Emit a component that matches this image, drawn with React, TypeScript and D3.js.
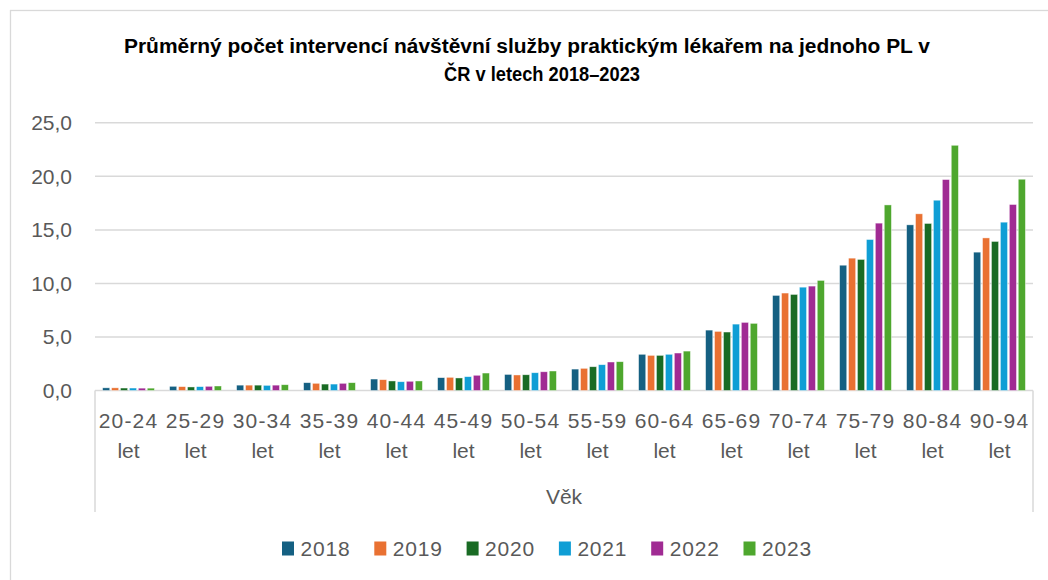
import React from "react";
import * as d3 from "d3";

const categories = ["20-24 let","25-29 let","30-34 let","35-39 let","40-44 let","45-49 let","50-54 let","55-59 let","60-64 let","65-69 let","70-74 let","75-79 let","80-84 let","90-94 let"];
const years = ["2018","2019","2020","2021","2022","2023"];
const v2018 = [0.25,0.39,0.5,0.73,1.07,1.2,1.5,2.0,3.38,5.64,8.88,11.7,15.47,12.92];
const v2019 = [0.25,0.36,0.5,0.67,1.01,1.23,1.45,2.07,3.28,5.52,9.1,12.36,16.5,14.25];
const v2020 = [0.23,0.33,0.5,0.6,0.89,1.17,1.47,2.22,3.28,5.46,8.97,12.24,15.6,13.92];
const v2021 = [0.23,0.36,0.48,0.6,0.82,1.29,1.66,2.41,3.38,6.2,9.65,14.1,17.77,15.72];
const v2022 = [0.22,0.39,0.5,0.67,0.86,1.42,1.75,2.66,3.5,6.36,9.75,15.63,19.7,17.37];
const v2023 = [0.22,0.42,0.54,0.73,0.89,1.63,1.82,2.69,3.68,6.27,10.28,17.33,22.9,19.73];
const seriesValues = [v2018,v2019,v2020,v2021,v2022,v2023];
const colors = ["#156082","#E97132","#196B24","#0F9ED5","#A02B93","#4EA72E"];
const yTicks = [0,5,10,15,20,25];
const titleLines = ["Průměrný počet intervencí návštěvní služby praktickým lékařem na jednoho PL  v","ČR v letech 2018–2023"];
const titleCenters = [527, 542];
const titleWidths = [806, 196];
const axisTitle = "Věk";

export default function App() {
  const W = 1048, H = 580;
  const left = 95, right = 1033, top = 122.8, bottom = 390.5;
  const x0 = d3.scaleBand<string>().domain(categories).range([left, right]).padding(0);
  const x1 = d3.scaleBand<string>().domain(years).range([x0.bandwidth()*0.1, x0.bandwidth()*0.9]).paddingInner(0.2).paddingOuter(0.1);
  const y = d3.scaleLinear().domain([0,25]).range([bottom, top]);
  const font = "'Liberation Sans', Arial, sans-serif";
  const gray = "#595959";
  const legendX = d3.scaleLinear().domain([0,1]).range([282, 374.3]);
  return (
    <svg width={W} height={H} style={{position:"absolute",left:0,top:0,background:"#fff"}} fontFamily={font}>
      <rect x={10.5} y={10.5} width={W+10} height={H+10} fill="#fff" stroke="#d9d9d9" strokeWidth={1.3}/>
      {titleLines.map((t,i)=>(
        <text key={i} x={titleCenters[i]} y={53+i*28} textAnchor="middle" fontWeight="bold" fontSize={20} fill="#000"
          textLength={titleWidths[i]} lengthAdjust="spacingAndGlyphs">{t}</text>
      ))}
      {yTicks.map(t=>(
        <g key={t}>
          <line x1={left} x2={right} y1={y(t)} y2={y(t)} stroke="#d9d9d9" strokeWidth={1.5}/>
          <text x={72} y={y(t)+7.5} textAnchor="end" fontSize={21} fill={gray}>{d3.format(".1f")(t).replace(".",",")}</text>
        </g>
      ))}
      <line x1={left} x2={left} y1={bottom} y2={512} stroke="#d9d9d9" strokeWidth={1.5}/>
      <line x1={right} x2={right} y1={bottom} y2={512} stroke="#d9d9d9" strokeWidth={1.5}/>
      {categories.map((c,ci)=>(
        <g key={c}>
          {seriesValues.map((vals,si)=>(
            <rect key={si} x={(x0(c) as number)+(x1(years[si]) as number)} y={y(vals[ci])} width={x1.bandwidth()} height={bottom-y(vals[ci])} fill={colors[si]} stroke="#ffffff" strokeOpacity={0.6} strokeWidth={0.7}/>
          ))}
          {c.split(" ").map((p,li)=>(
            <text key={li} x={(x0(c) as number)+x0.bandwidth()/2} y={428+li*30} textAnchor="middle" fontSize={21} fill={gray} letterSpacing={li===0?1.2:0}>{p}</text>
          ))}
        </g>
      ))}
      <text x={(left+right)/2} y={504} textAnchor="middle" fontSize={21} fill={gray}>{axisTitle}</text>
      {years.map((yr,i)=>(
        <g key={yr}>
          <rect x={legendX(i)} y={541.5} width={12} height={14} fill={colors[i]}/>
          <text x={legendX(i)+18.5} y={556} fontSize={21} fill={gray} letterSpacing={0.8}>{yr}</text>
        </g>
      ))}
    </svg>
  );
}
